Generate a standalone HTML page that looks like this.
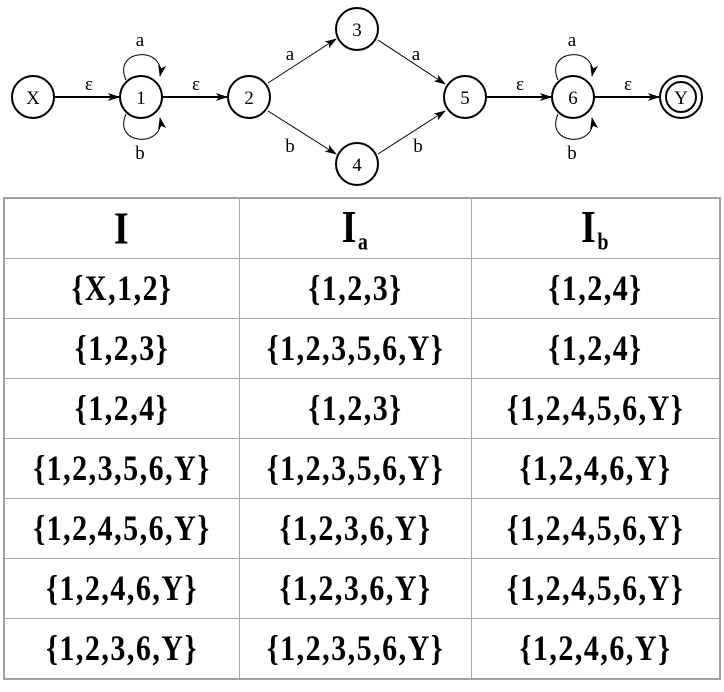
<!DOCTYPE html>
<html><head><meta charset="utf-8"><style>
body{margin:0;background:#fff;width:724px;height:692px;overflow:hidden;position:relative;font-family:"Liberation Serif",serif}
svg{position:absolute;left:0;top:0}
table{position:absolute;left:3px;top:197px;width:718px;border-collapse:collapse;border:2px solid #a0a0a0}
td{border:1px solid #a8a8a8;height:59px;text-align:center;font-weight:bold;font-size:30px;letter-spacing:1.5px;padding:0}
td span{display:inline-block;transform:scaleY(1.2)}
tr.h td{font-size:38px}
sub{font-size:20px;vertical-align:-6px}
</style></head><body>
<svg width="724" height="195" font-family="'Liberation Serif','DejaVu Serif',serif" font-size="19">
<defs><marker id="ar" markerWidth="12" markerHeight="8" refX="11" refY="4" orient="auto" markerUnits="userSpaceOnUse"><path d="M0,0 L12,4 L0,8 L3,4z" fill="#000"/></marker></defs>
<g stroke="#000" fill="none">
<line x1="55" y1="97" x2="119" y2="97" stroke-width="2" marker-end="url(#ar)"/>
<line x1="163" y1="97" x2="227" y2="97" stroke-width="2" marker-end="url(#ar)"/>
<line x1="268" y1="83" x2="336" y2="39" stroke-width="1" marker-end="url(#ar)"/>
<line x1="268" y1="111" x2="336" y2="154" stroke-width="1" marker-end="url(#ar)"/>
<line x1="378" y1="40" x2="445" y2="84" stroke-width="1" marker-end="url(#ar)"/>
<line x1="378" y1="154" x2="445" y2="111" stroke-width="1" marker-end="url(#ar)"/>
<line x1="487" y1="97" x2="551" y2="97" stroke-width="2" marker-end="url(#ar)"/>
<line x1="595" y1="97" x2="659" y2="97" stroke-width="2" marker-end="url(#ar)"/>
<path d="M126,80 C112,48 166,46 160,76" stroke-width="1" marker-end="url(#ar)"/>
<path d="M126,114 C112,146 166,148 160,118" stroke-width="1" marker-end="url(#ar)"/>
<path d="M558,80 C544,48 598,46 592,76" stroke-width="1" marker-end="url(#ar)"/>
<path d="M558,114 C544,146 598,148 592,118" stroke-width="1" marker-end="url(#ar)"/>
<g stroke-width="2">
<circle cx="33" cy="97" r="21"/><circle cx="141" cy="97" r="21"/><circle cx="249" cy="97" r="21"/>
<circle cx="357" cy="29" r="21"/><circle cx="357" cy="164" r="21"/><circle cx="465" cy="97" r="21"/>
<circle cx="573" cy="97" r="21"/><circle cx="681" cy="97" r="21"/><circle cx="681" cy="97" r="15"/>
</g></g>
<g fill="#000" text-anchor="middle">
<text x="33" y="104">X</text><text x="141" y="104">1</text><text x="249" y="104">2</text>
<text x="357" y="36">3</text><text x="357" y="171">4</text><text x="465" y="104">5</text>
<text x="573" y="104">6</text><text x="681" y="104">Y</text>
<text x="89" y="90">ε</text><text x="196" y="90">ε</text><text x="520" y="90">ε</text><text x="628" y="90">ε</text>
<text x="140" y="46">a</text><text x="140" y="159">b</text><text x="572" y="46">a</text><text x="572" y="159">b</text>
<text x="290" y="60">a</text><text x="290" y="152">b</text><text x="416" y="60">a</text><text x="418" y="152">b</text>
</g>
</svg>
<table>
<tr class="h"><td style="width:234px"><span>I</span></td><td style="width:231px"><span>I<sub>a</sub></span></td><td><span>I<sub>b</sub></span></td></tr>
<tr><td><span>{X,1,2}</span></td><td><span>{1,2,3}</span></td><td><span>{1,2,4}</span></td></tr>
<tr><td><span>{1,2,3}</span></td><td><span>{1,2,3,5,6,Y}</span></td><td><span>{1,2,4}</span></td></tr>
<tr><td><span>{1,2,4}</span></td><td><span>{1,2,3}</span></td><td><span>{1,2,4,5,6,Y}</span></td></tr>
<tr><td><span>{1,2,3,5,6,Y}</span></td><td><span>{1,2,3,5,6,Y}</span></td><td><span>{1,2,4,6,Y}</span></td></tr>
<tr><td><span>{1,2,4,5,6,Y}</span></td><td><span>{1,2,3,6,Y}</span></td><td><span>{1,2,4,5,6,Y}</span></td></tr>
<tr><td><span>{1,2,4,6,Y}</span></td><td><span>{1,2,3,6,Y}</span></td><td><span>{1,2,4,5,6,Y}</span></td></tr>
<tr><td><span>{1,2,3,6,Y}</span></td><td><span>{1,2,3,5,6,Y}</span></td><td><span>{1,2,4,6,Y}</span></td></tr>
</table>
</body></html>
